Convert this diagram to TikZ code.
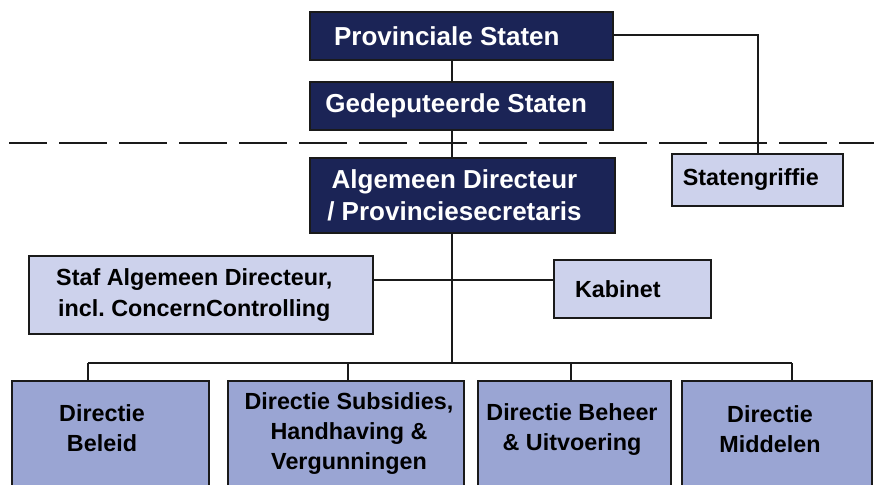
\documentclass[tikz,border=0pt]{standalone}
\usepackage{fontspec}
\setmainfont{Liberation Sans}
\frenchspacing
\begin{document}
\definecolor{navy}{HTML}{1B2456}
\definecolor{paleblue}{HTML}{CDD2EC}
\definecolor{midblue}{HTML}{9AA5D3}
\definecolor{edge}{HTML}{1A1A1A}
\begin{tikzpicture}[x=0.75pt,y=-0.75pt,
  box/.style={draw=edge,line width=1.5pt,rectangle,inner sep=0pt,align=center,
    font=\bfseries\fontsize{17.5}{23}\selectfont},
  darkbox/.style={box,fill=navy,text=white,font=\bfseries\fontsize{19.5}{24}\selectfont},
  lightbox/.style={box,fill=paleblue,text=black},
  unitbox/.style={box,fill=midblue,anchor=north},
  unittext/.style={align=center,inner sep=0pt,font=\bfseries\fontsize{17.5}{22.5}\selectfont},
  link/.style={draw=edge,line width=1pt},
  divider/.style={draw=edge,line width=1.5pt,dash pattern=on 36pt off 9pt,dash phase=7.5pt}]
\useasboundingbox (0,0) rectangle (874,485);
\begin{scope}
\clip (0,0) rectangle (874,485);

% trunk and helper coordinates
\coordinate (trunk) at (452,0);
\coordinate (dl) at (9,143);
\coordinate (dr) at (874,143);
\coordinate (sideline) at (0,280);
\coordinate (griffx) at (758,35);
\coordinate (bus) at (0,363);
\coordinate (d1) at (88,0);
\coordinate (d2) at (348,0);
\coordinate (d3) at (571,0);
\coordinate (d4) at (792,0);

% upper hierarchy
\node[darkbox,minimum width=303*0.75pt,minimum height=48*0.75pt] (ps) at (461.5,36) {Provinciale Staten\kern22pt};
\node[darkbox,minimum width=303*0.75pt,minimum height=48*0.75pt] (gs) at (461.5,106) {Gedeputeerde Staten\kern8pt};
\node[darkbox,minimum width=305*0.75pt,minimum height=75*0.75pt] (ad) at (462.5,195.5) {Algemeen Directeur\kern12pt\\/ Provinciesecretaris\kern12pt};
\node[lightbox,minimum width=171*0.75pt,minimum height=52*0.75pt] (sg) at (757.5,180) {Statengriffie\kern10pt};
\node[lightbox,minimum width=344*0.75pt,minimum height=78*0.75pt] (staf) at (201,295) {Staf Algemeen Directeur,\kern10pt\\incl. ConcernControlling\kern10pt};
\node[lightbox,minimum width=157*0.75pt,minimum height=58*0.75pt] (kab) at (632.5,289) {Kabinet\kern22pt};

% directorates (running off the lower edge)
\node[unitbox,minimum width=197*0.75pt,minimum height=140*0.75pt] (bel) at (110.5,380) {};
\node[unitbox,minimum width=236*0.75pt,minimum height=140*0.75pt] (sub) at (346,380) {};
\node[unitbox,minimum width=193*0.75pt,minimum height=140*0.75pt] (beh) at (574.5,380) {};
\node[unitbox,minimum width=190*0.75pt,minimum height=140*0.75pt] (mid) at (777,380) {};
\node[unittext] (belt) at (102,428.5) {Directie\\Beleid};
\node[unittext] (subt) at (349,434) {Directie Subsidies,\\Handhaving \&\\Vergunningen};
\node[unittext] (beht) at (572,429.5) {Directie Beheer\\\& Uitvoering};
\node[unittext] (midt) at (770,429) {Directie\\Middelen};

% divider between political and administrative level
\draw[divider] (dl) -- (dr);

% connectors
\draw[link] (ps.south -| trunk) -- (gs.north -| trunk);
\draw[link] (gs.south -| trunk) -- (ad.north -| trunk);
\draw[link] (ad.south -| trunk) -- (bus -| trunk);
\draw[link] (ps.east |- griffx) -- (griffx) -- (sg.north -| griffx);
\draw[link] (staf.east |- sideline) -- (kab.west |- sideline);
\draw[link] (bus -| d1) -- (bus -| d4);
\draw[link] (bus -| d1) -- (bel.north -| d1);
\draw[link] (bus -| d2) -- (sub.north -| d2);
\draw[link] (bus -| d3) -- (beh.north -| d3);
\draw[link] (bus -| d4) -- (mid.north -| d4);
\end{scope}
\end{tikzpicture}
\end{document}
